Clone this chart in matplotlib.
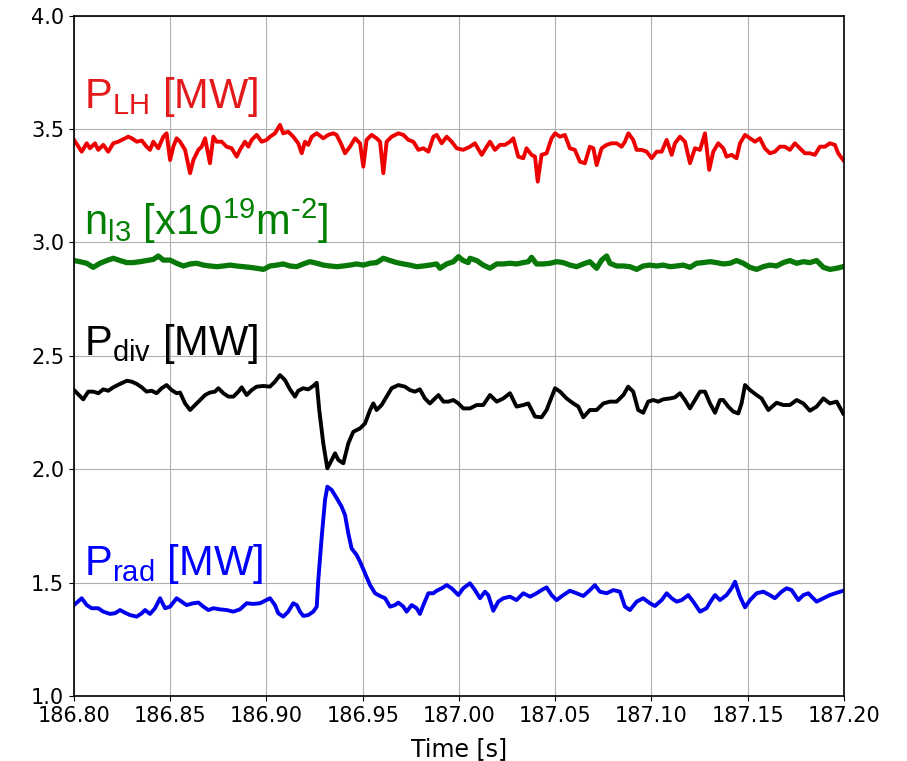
import matplotlib
matplotlib.use("Agg")
import matplotlib.pyplot as plt
import numpy as np

# time axis starts at 186.80 s, samples below are given in ms after that
T0 = 186.80

# P_LH [MW]
plh_ms = [0, 4.0, 6.6, 8.3, 10.9, 12.6, 15.2, 17.8, 20.4, 23.0, 25.6, 28.2, 30.0, 32.6, 35.2,
          37.7, 39.5, 41.2, 43.8, 46.4, 48.1, 49.9, 51.6, 53.3, 55.1, 57.7, 60.3, 62.0, 64.6,
          66.3, 68.1, 70.6, 72.4, 74.1, 76.7, 79.3, 81.9, 84.5, 86.2, 88.8, 90.6, 92.3, 94.9,
          97.5, 100.1, 101.8, 104.4, 107.0, 108.7, 111.3, 113.9, 116.5, 118.3, 120.0, 121.7,
          123.5, 126.1, 129.5, 132.1, 134.7, 136.4, 139.0, 140.8, 143.4, 146.0, 148.6, 150.3,
          152.0, 154.6, 157.2, 159.0, 160.7, 162.4, 165.0, 168.5, 171.1, 173.7, 176.3, 178.9,
          181.5, 184.1, 186.7, 188.4, 191.0, 193.6, 196.2, 198.8, 202.2, 205.7, 208.3, 211.8,
          214.4, 216.1, 218.7, 221.3, 223.9, 226.5, 228.2, 230.8, 233.4, 235.1, 237.7, 239.5,
          240.9, 242.9, 245.5, 248.1, 249.9, 252.5, 255.0, 257.6, 260.2, 262.8, 265.4, 268.0,
          269.8, 271.5, 274.1, 276.7, 279.3, 281.9, 284.5, 286.2, 288.0, 290.5, 292.3, 294.9,
          297.5, 300.1, 302.7, 305.3, 307.9, 310.5, 312.2, 314.8, 317.4, 320.0, 322.6, 325.2,
          327.8, 330.0, 332.1, 334.7, 337.3, 339.0, 341.6, 344.2, 346.0, 348.6, 351.2, 353.8,
          356.3, 358.9, 361.5, 364.1, 366.7, 369.3, 371.9, 374.5, 377.1, 379.7, 382.3, 384.9,
          387.5, 390.1, 392.7, 395.3, 397.0, 399.6]
plh = [3.452, 3.400, 3.437, 3.415, 3.437, 3.408, 3.430, 3.400, 3.437, 3.444, 3.455, 3.466, 3.459,
       3.444, 3.449, 3.422, 3.408, 3.444, 3.415, 3.466, 3.481, 3.363, 3.422, 3.459, 3.444, 3.408,
       3.305, 3.363, 3.408, 3.422, 3.459, 3.349, 3.466, 3.444, 3.444, 3.422, 3.415, 3.378, 3.408,
       3.444, 3.422, 3.452, 3.474, 3.444, 3.452, 3.466, 3.481, 3.518, 3.481, 3.488, 3.466, 3.437,
       3.393, 3.444, 3.430, 3.466, 3.481, 3.459, 3.474, 3.481, 3.474, 3.430, 3.393, 3.422, 3.459,
       3.437, 3.334, 3.452, 3.474, 3.459, 3.444, 3.305, 3.444, 3.466, 3.481, 3.474, 3.452, 3.444,
       3.408, 3.415, 3.400, 3.466, 3.474, 3.437, 3.466, 3.444, 3.415, 3.408, 3.422, 3.437, 3.386,
       3.422, 3.444, 3.408, 3.430, 3.430, 3.444, 3.459, 3.378, 3.371, 3.415, 3.386, 3.378, 3.268,
       3.386, 3.393, 3.459, 3.481, 3.466, 3.474, 3.415, 3.408, 3.356, 3.349, 3.422, 3.415, 3.341,
       3.415, 3.430, 3.437, 3.437, 3.422, 3.444, 3.481, 3.452, 3.408, 3.408, 3.400, 3.371, 3.400,
       3.400, 3.452, 3.386, 3.437, 3.466, 3.444, 3.349, 3.415, 3.408, 3.481, 3.320, 3.400, 3.437,
       3.415, 3.378, 3.386, 3.371, 3.437, 3.474, 3.459, 3.444, 3.459, 3.415, 3.393, 3.400, 3.422,
       3.422, 3.408, 3.437, 3.415, 3.393, 3.393, 3.386, 3.422, 3.422, 3.437, 3.430, 3.393, 3.363]

# n_l3 [x10^19 m^-2]
nl3_ms = [0, 3.1, 6.6, 10.0, 13.5, 17.0, 20.4, 23.9, 27.4, 30.8, 34.3, 37.7, 41.2, 43.8, 46.4,
          49.9, 53.3, 56.8, 60.3, 63.7, 67.2, 70.6, 74.1, 77.6, 81.0, 84.5, 88.0, 91.4, 94.9,
          98.4, 101.8, 105.3, 108.7, 112.2, 115.7, 119.1, 122.6, 126.1, 129.5, 133.0, 136.5,
          139.9, 143.4, 146.8, 150.3, 153.8, 157.2, 160.7, 164.2, 167.6, 171.1, 174.5, 178.0,
          181.5, 184.9, 188.4, 190.1, 193.6, 197.1, 199.7, 202.2, 204.8, 205.7, 209.2, 212.6,
          216.1, 219.6, 223.0, 226.5, 229.9, 233.4, 236.0, 237.7, 240.3, 243.8, 247.3, 250.7,
          254.2, 257.6, 261.1, 264.6, 268.0, 271.5, 274.1, 276.7, 278.4, 281.9, 285.4, 288.8,
          292.3, 295.7, 299.2, 302.7, 306.1, 309.6, 313.1, 316.5, 320.0, 323.4, 326.9, 330.4,
          333.8, 337.3, 340.8, 344.2, 347.7, 351.2, 354.6, 358.1, 361.5, 365.0, 368.5, 371.9,
          375.4, 378.9, 382.3, 385.8, 389.3, 392.7, 396.2, 399.6]
nl3 = [2.920, 2.915, 2.908, 2.890, 2.908, 2.920, 2.930, 2.920, 2.911, 2.911, 2.915, 2.920, 2.925,
       2.940, 2.922, 2.922, 2.908, 2.896, 2.905, 2.908, 2.900, 2.896, 2.893, 2.896, 2.900, 2.896,
       2.893, 2.890, 2.886, 2.881, 2.896, 2.900, 2.905, 2.896, 2.893, 2.905, 2.915, 2.908, 2.900,
       2.896, 2.893, 2.896, 2.900, 2.905, 2.900, 2.908, 2.911, 2.930, 2.920, 2.911, 2.905, 2.900,
       2.893, 2.896, 2.900, 2.905, 2.886, 2.905, 2.915, 2.937, 2.920, 2.911, 2.930, 2.920, 2.900,
       2.886, 2.905, 2.905, 2.908, 2.905, 2.911, 2.915, 2.934, 2.905, 2.905, 2.908, 2.915, 2.911,
       2.900, 2.893, 2.905, 2.915, 2.886, 2.922, 2.940, 2.908, 2.896, 2.896, 2.893, 2.881, 2.896,
       2.900, 2.896, 2.900, 2.893, 2.896, 2.900, 2.890, 2.908, 2.911, 2.915, 2.911, 2.905, 2.908,
       2.920, 2.908, 2.890, 2.881, 2.893, 2.900, 2.896, 2.911, 2.920, 2.908, 2.915, 2.911, 2.920,
       2.890, 2.881, 2.886, 2.893]

# P_div [MW]
pdiv_ms = [0, 4.8, 7.4, 10.0, 12.6, 15.2, 17.8, 20.4, 23.9, 27.4, 30.0, 32.6, 35.2, 37.7, 40.3,
           42.9, 45.5, 48.1, 50.7, 53.3, 55.1, 57.7, 60.3, 62.9, 65.5, 68.1, 70.6, 73.2, 75.0,
           77.6, 80.2, 82.8, 85.4, 87.1, 89.7, 92.3, 94.9, 98.4, 101.8, 104.4, 107.0, 109.6,
           112.2, 114.8, 116.5, 119.1, 121.7, 124.3, 126.1, 127.4, 129.5, 131.6, 133.9, 135.6,
           137.3, 139.9, 142.5, 145.1, 148.6, 151.2, 153.8, 155.5, 157.2, 159.8, 162.4, 165.0,
           168.5, 171.9, 174.5, 177.1, 179.7, 182.3, 184.9, 187.5, 189.3, 191.9, 194.5, 197.1,
           199.7, 202.2, 205.7, 209.2, 212.6, 216.1, 219.6, 223.0, 226.5, 229.9, 233.4, 236.0,
           239.5, 242.9, 245.5, 249.9, 252.5, 255.9, 259.4, 262.0, 264.6, 268.0, 271.5, 275.0,
           278.4, 281.9, 285.4, 287.9, 290.5, 293.1, 295.7, 298.3, 300.9, 303.5, 306.1, 309.6,
           312.2, 314.8, 317.4, 320.0, 322.6, 325.2, 327.8, 330.4, 333.0, 335.6, 337.3, 339.9,
           342.5, 345.1, 346.8, 348.6, 351.2, 354.6, 357.2, 360.7, 365.0, 368.5, 371.9, 375.4,
           378.9, 382.3, 385.8, 389.3, 392.7, 396.2, 399.6]
pdiv = [2.349, 2.308, 2.342, 2.342, 2.335, 2.352, 2.346, 2.361, 2.376, 2.390, 2.386, 2.376, 2.361,
        2.342, 2.346, 2.335, 2.357, 2.371, 2.349, 2.335, 2.338, 2.290, 2.261, 2.283, 2.305, 2.327,
        2.338, 2.342, 2.357, 2.335, 2.320, 2.320, 2.342, 2.361, 2.327, 2.349, 2.364, 2.367, 2.364,
        2.386, 2.415, 2.393, 2.352, 2.320, 2.346, 2.357, 2.352, 2.367, 2.381, 2.261, 2.114, 2.004,
        2.041, 2.070, 2.041, 2.026, 2.114, 2.165, 2.180, 2.202, 2.261, 2.290, 2.261, 2.283, 2.320,
        2.357, 2.371, 2.364, 2.349, 2.342, 2.352, 2.312, 2.290, 2.312, 2.327, 2.298, 2.298, 2.305,
        2.290, 2.268, 2.268, 2.283, 2.283, 2.327, 2.298, 2.312, 2.335, 2.276, 2.283, 2.290, 2.232,
        2.229, 2.261, 2.357, 2.342, 2.312, 2.290, 2.276, 2.229, 2.261, 2.261, 2.290, 2.298, 2.298,
        2.327, 2.364, 2.342, 2.261, 2.249, 2.298, 2.305, 2.298, 2.308, 2.312, 2.317, 2.335, 2.305,
        2.268, 2.305, 2.342, 2.342, 2.290, 2.249, 2.305, 2.305, 2.276, 2.254, 2.246, 2.290, 2.371,
        2.349, 2.327, 2.312, 2.261, 2.293, 2.283, 2.283, 2.305, 2.290, 2.258, 2.276, 2.312, 2.290,
        2.298, 2.246]

# P_rad [MW]
prad_ms = [0, 4.0, 6.6, 9.2, 12.6, 15.2, 18.7, 21.3, 23.9, 26.5, 29.1, 32.6, 35.2, 36.9, 39.5,
           42.1, 44.7, 47.3, 49.9, 53.3, 55.9, 58.5, 62.0, 64.6, 67.2, 69.8, 72.4, 75.8, 79.3,
           82.8, 86.2, 89.7, 93.2, 96.6, 99.2, 101.8, 104.4, 106.1, 108.7, 111.3, 113.9, 115.7,
           117.4, 119.1, 121.7, 124.3, 126.1, 126.9, 128.7, 130.4, 131.6, 133.9, 136.5, 139.0,
           140.8, 142.5, 144.2, 146.8, 148.6, 151.2, 153.8, 156.4, 159.0, 161.6, 164.2, 166.8,
           168.5, 171.1, 172.8, 175.4, 178.0, 179.7, 181.5, 184.1, 186.7, 188.4, 191.0, 193.6,
           196.2, 199.7, 202.2, 205.7, 208.3, 210.9, 213.5, 215.2, 217.8, 220.4, 223.0, 226.5,
           229.9, 233.4, 236.9, 240.3, 242.9, 245.5, 248.1, 250.7, 254.2, 257.6, 261.1, 264.6,
           268.0, 270.6, 273.2, 276.7, 280.2, 283.6, 286.2, 288.8, 292.3, 295.7, 299.2, 301.8,
           305.3, 307.9, 310.5, 313.1, 315.7, 319.1, 321.7, 325.2, 328.6, 331.2, 333.0, 335.6,
           339.0, 341.6, 343.4, 346.0, 348.6, 351.2, 354.6, 358.1, 361.5, 364.1, 367.6, 370.2,
           372.8, 376.3, 378.9, 381.5, 383.2, 385.8, 389.3, 392.7, 396.2, 399.6]
prad = [1.401, 1.431, 1.401, 1.387, 1.387, 1.372, 1.362, 1.365, 1.379, 1.367, 1.357, 1.350, 1.365,
        1.379, 1.362, 1.387, 1.431, 1.387, 1.394, 1.431, 1.416, 1.401, 1.409, 1.412, 1.394, 1.379,
        1.387, 1.382, 1.379, 1.372, 1.382, 1.409, 1.406, 1.409, 1.420, 1.431, 1.401, 1.365, 1.350,
        1.372, 1.409, 1.401, 1.372, 1.353, 1.357, 1.372, 1.394, 1.511, 1.703, 1.864, 1.923, 1.908,
        1.872, 1.835, 1.798, 1.717, 1.651, 1.622, 1.592, 1.541, 1.489, 1.453, 1.441, 1.431, 1.394,
        1.401, 1.412, 1.394, 1.372, 1.401, 1.387, 1.362, 1.401, 1.453, 1.453, 1.464, 1.475, 1.489,
        1.475, 1.445, 1.475, 1.497, 1.467, 1.431, 1.460, 1.445, 1.376, 1.416, 1.431, 1.438, 1.423,
        1.453, 1.438, 1.453, 1.467, 1.479, 1.445, 1.423, 1.445, 1.464, 1.453, 1.441, 1.467, 1.489,
        1.460, 1.453, 1.467, 1.460, 1.394, 1.379, 1.416, 1.431, 1.409, 1.397, 1.423, 1.453, 1.431,
        1.416, 1.423, 1.445, 1.416, 1.372, 1.387, 1.423, 1.445, 1.423, 1.445, 1.475, 1.504, 1.438,
        1.391, 1.423, 1.453, 1.460, 1.445, 1.431, 1.460, 1.475, 1.467, 1.423, 1.445, 1.453, 1.438,
        1.416, 1.431, 1.445, 1.455, 1.464]

xticks = [186.80, 186.85, 186.90, 186.95, 187.00, 187.05, 187.10, 187.15, 187.20]
yticks = [1.0, 1.5, 2.0, 2.5, 3.0, 3.5, 4.0]

plt.rcParams['mathtext.fontset'] = 'custom'
plt.rcParams['mathtext.rm'] = 'Liberation Sans'
plt.rcParams['mathtext.it'] = 'Liberation Sans:italic'
plt.rcParams['mathtext.bf'] = 'Liberation Sans:bold'

fig = plt.figure(figsize=(9.07, 7.61), dpi=100)
ax = fig.add_axes([0.0816, 0.0854, 0.8489, 0.8941])


def to_time(ms):
    return T0 + np.array(ms) / 1000.0


ax.plot(to_time(plh_ms), plh, color='#ee0000', lw=2.8)
ax.plot(to_time(nl3_ms), nl3, color='#087808', lw=3.8)
ax.plot(to_time(pdiv_ms), pdiv, color='black', lw=2.8)
ax.plot(to_time(prad_ms), prad, color='#0000ee', lw=2.8)

# signal names written inside the axes (short hyphen in the exponent, as in the original)
lab_x = 186.8052
ax.text(lab_x, 3.593, r'$\mathrm{P_{LH}\ [MW]}$', color='#e31a1c', fontsize=30, va='baseline')
ax.text(lab_x, 3.033, '$\\mathrm{n_{l3}\\ [x10^{19}m^{\u20102}]}$', color='#008000', fontsize=30,
        va='baseline')
ax.text(lab_x, 2.504, r'$\mathrm{P_{div}\ [MW]}$', color='black', fontsize=30, va='baseline')
ax.text(lab_x, 1.534, r'$\mathrm{P_{rad}\ [MW]}$', color='#0000ff', fontsize=30, va='baseline')

ax.set_xlim(186.80, 187.20)
ax.set_ylim(1.0, 4.0)
ax.set_xticks(xticks)
ax.set_xticklabels([f"{v:.2f}" for v in xticks])
ax.set_yticks(yticks)
ax.set_yticklabels([f"{v:.1f}" for v in yticks])
ax.tick_params(labelsize=15)
ax.set_xlabel("Time [s]", fontsize=17, labelpad=8)
ax.grid(True, color='#b0b0b0', lw=0.8)
for sp in ax.spines.values():
    sp.set_linewidth(1.2)

fig.savefig("out.png", dpi=100)
